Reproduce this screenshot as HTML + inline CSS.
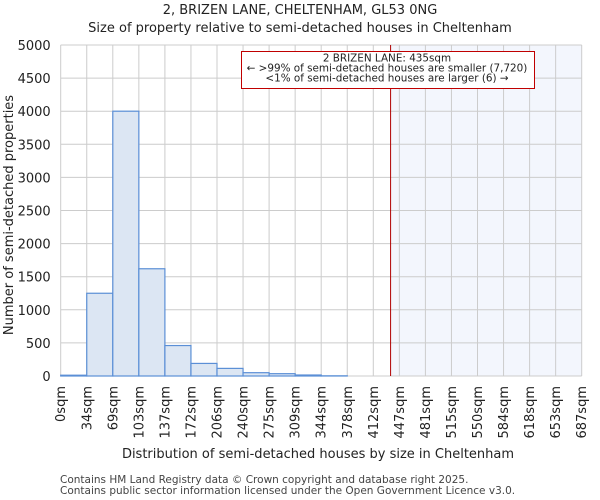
<!DOCTYPE html>
<html><head><meta charset="utf-8"><style>
body{margin:0;background:#fff;}
svg{display:block;font-family:"DejaVu Sans","Liberation Sans",sans-serif;}
</style></head><body>
<svg id="c" width="600" height="500"></svg>
<script>
const binLabels=["0sqm","34sqm","69sqm","103sqm","137sqm","172sqm","206sqm","240sqm","275sqm","309sqm","344sqm","378sqm","412sqm","447sqm","481sqm","515sqm","550sqm","584sqm","618sqm","653sqm","687sqm"];
const counts=[12,1250,4000,1620,460,190,115,50,35,15,3,0,0,0,0,0,0,0,0,0];
const yTicks=[0,500,1000,1500,2000,2500,3000,3500,4000,4500,5000];
const markerValue=435;
const binSize=34.35;
const NS="http://www.w3.org/2000/svg";
const svg=document.getElementById('c');
const L=60.7,R=581.7,T=45,B=376,ymax=5000;
const nb=counts.length;
const x=v=>L+(v/(binSize*nb))*(R-L);
const xb=i=>L+i*(R-L)/nb;
const y=v=>B-(v/ymax)*(B-T);
function el(t,a,p){const e=document.createElementNS(NS,t);for(const k in a)e.setAttribute(k,a[k]);(p||svg).appendChild(e);return e;}
const sh=el('rect',{x:x(markerValue),y:T,width:R-x(markerValue),height:B-T,fill:'#f3f6fd'});


for(let i=0;i<=nb;i++){const g=el('line',{x1:xb(i),x2:xb(i),y1:T,y2:B,stroke:'#cccccc','stroke-width':1});

}
yTicks.forEach(v=>{const g=el('line',{x1:L,x2:R,y1:y(v),y2:y(v),stroke:'#cccccc','stroke-width':1});


const t=el('text',{x:L-10,y:y(v)+5,'text-anchor':'end','font-size':13,fill:'#222'});t.textContent=v;

});
counts.forEach((c,i)=>{if(c<=0)return;const b=el('rect',{x:xb(i),y:y(c),width:xb(i+1)-xb(i),height:B-y(c),fill:'#dce6f3',stroke:'#5b8fd6','stroke-width':1.2});

});
binLabels.forEach((s,i)=>{const t=el('text',{transform:`translate(${xb(i)+4.5},${B+10}) rotate(-90)`,'text-anchor':'end','font-size':13,fill:'#222'});t.textContent=s;

});
const m=el('line',{x1:x(markerValue),x2:x(markerValue),y1:T,y2:B,stroke:'#b00000','stroke-width':1});


</script>
<svg style="position:absolute;left:0;top:0" width="600" height="500">
<text x="300" y="14" text-anchor="middle" font-size="13" fill="#222">2, BRIZEN LANE, CHELTENHAM, GL53 0NG</text>
<text x="300" y="32" text-anchor="middle" font-size="13" fill="#222">Size of property relative to semi-detached houses in Cheltenham</text>
<rect x="241.5" y="51.5" width="293" height="37" fill="#fff" stroke="#c00000" stroke-width="1"/>
<text x="387" y="61.5" text-anchor="middle" font-size="10.4" fill="#222">2 BRIZEN LANE: 435sqm</text>
<text x="387" y="71.5" text-anchor="middle" font-size="10.4" fill="#222">← &gt;99% of semi-detached houses are smaller (7,720)</text>
<text x="387" y="81.5" text-anchor="middle" font-size="10.4" fill="#222">&lt;1% of semi-detached houses are larger (6) →</text>
<text transform="translate(13,215) rotate(-90)" text-anchor="middle" font-size="13" fill="#222">Number of semi-detached properties</text>
<text x="318" y="458" text-anchor="middle" font-size="13" fill="#222">Distribution of semi-detached houses by size in Cheltenham</text>
<text x="60" y="483" font-size="10.5" fill="#444">Contains HM Land Registry data © Crown copyright and database right 2025.</text>
<text x="60" y="494" font-size="10.5" fill="#444">Contains public sector information licensed under the Open Government Licence v3.0.</text>
</svg>
</body></html>
